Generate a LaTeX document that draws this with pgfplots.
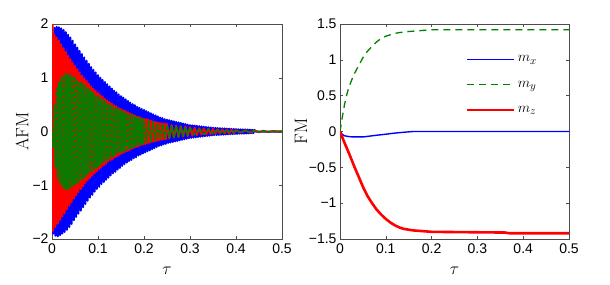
\documentclass[border=0pt]{standalone}
\usepackage{pgfplots}
\pgfplotsset{compat=1.18}
\usepackage{fontspec}
\setsansfont{Liberation Sans}
\definecolor{mgreen}{rgb}{0,0.5,0}
\definecolor{mblue}{rgb}{0,0,1}
\definecolor{axgray}{gray}{0.3}
\begin{document}
\begin{tikzpicture}
\path[use as bounding box] (0,0) rectangle (610pt,284pt);
\pgfplotsset{
  every axis/.append style={
    scale only axis,
    xmin=0, xmax=0.5,
    xtick={0,0.1,0.2,0.3,0.4,0.5},
    xticklabels={0,0.1,0.2,0.3,0.4,0.5},
    tick align=inside,
    major tick length=3pt,
    axis line style={axgray},
    tick style={axgray, line width=0.5pt},
    tick label style={font=\sffamily\fontsize{14}{16}\selectfont},
    xticklabel style={yshift=-1pt},
    xlabel={$\tau$},
    label style={font=\fontsize{18}{20}\selectfont},
    xlabel style={at={(axis description cs:0.5,-0.15)}, anchor=center},
    anchor=south west,
  }
}
% ---------------- left: AFM ----------------
\begin{axis}[
  at={(52pt,45pt)}, width=230pt, height=215pt,
  ymin=-2, ymax=2,
  ytick={-2,-1,0,1,2},
  yticklabels={−2,−1,0,1,2},
  ylabel={AFM},
  ylabel style={at={(axis description cs:-0.13,0.5)}, anchor=center},
]
\addplot[mblue, line width=2pt, line join=round] coordinates {
(0,0) (0.0025,-1.9) (0.005,1.93) (0.0075,-1.94) (0.01,1.95) (0.0125,-1.95) (0.015,1.94) (0.0175,-1.93)
(0.02,1.92) (0.0225,-1.9) (0.025,1.89) (0.0275,-1.87) (0.03,1.85) (0.0325,-1.83) (0.035,1.80) (0.0375,-1.78)
(0.04,1.75) (0.0425,-1.72) (0.045,1.69) (0.0475,-1.65) (0.05,1.62) (0.0525,-1.59) (0.055,1.56) (0.0575,-1.53)
(0.06,1.50) (0.0625,-1.47) (0.065,1.44) (0.0675,-1.41) (0.07,1.38) (0.0725,-1.35) (0.075,1.32) (0.0775,-1.29)
(0.08,1.26) (0.0825,-1.23) (0.085,1.20) (0.0875,-1.18) (0.09,1.15) (0.0925,-1.12) (0.095,1.10) (0.0975,-1.07)
(0.10,1.05) (0.1025,-1.03) (0.105,1.00) (0.1075,-0.98) (0.11,0.96) (0.1125,-0.94) (0.115,0.92) (0.1175,-0.90)
(0.12,0.88) (0.1225,-0.86) (0.125,0.84) (0.1275,-0.82) (0.13,0.80) (0.1325,-0.78) (0.135,0.76) (0.1375,-0.75)
(0.14,0.73) (0.1425,-0.71) (0.145,0.69) (0.1475,-0.68) (0.15,0.66) (0.1525,-0.64) (0.155,0.63) (0.1575,-0.61)
(0.16,0.60) (0.1625,-0.58) (0.165,0.57) (0.1675,-0.55) (0.17,0.54) (0.1725,-0.53) (0.175,0.51) (0.1775,-0.50)
(0.18,0.49) (0.1825,-0.48) (0.185,0.46) (0.1875,-0.45) (0.19,0.44) (0.1925,-0.43) (0.195,0.42) (0.1975,-0.41)
(0.20,0.40) (0.2025,-0.39) (0.205,0.38) (0.2075,-0.37) (0.21,0.36) (0.2125,-0.35) (0.215,0.34) (0.2175,-0.33)
(0.22,0.32) (0.2225,-0.31) (0.225,0.30) (0.2275,-0.29) (0.23,0.28) (0.2325,-0.27) (0.235,0.26) (0.2375,-0.26)
(0.24,0.25) (0.2425,-0.24) (0.245,0.23) (0.2475,-0.23) (0.25,0.22) (0.2525,-0.215) (0.255,0.21) (0.2575,-0.205)
(0.26,0.20) (0.2625,-0.195) (0.265,0.19) (0.2675,-0.185) (0.27,0.18) (0.2725,-0.175) (0.275,0.17) (0.2775,-0.165)
(0.28,0.16) (0.2825,-0.155) (0.285,0.15) (0.2875,-0.145) (0.29,0.14) (0.2925,-0.135) (0.295,0.13) (0.2975,-0.125)
(0.30,0.12) (0.3025,-0.118) (0.305,0.115) (0.3075,-0.113) (0.31,0.11) (0.3125,-0.108) (0.315,0.105) (0.3175,-0.103)
(0.32,0.10) (0.3225,-0.098) (0.325,0.095) (0.3275,-0.093) (0.33,0.09) (0.3325,-0.088) (0.335,0.085) (0.3375,-0.083)
(0.34,0.08) (0.3425,-0.078) (0.345,0.075) (0.3475,-0.073) (0.35,0.07) (0.3525,-0.069) (0.355,0.068) (0.3575,-0.066)
(0.36,0.065) (0.3625,-0.064) (0.365,0.062) (0.3675,-0.061) (0.37,0.06) (0.3725,-0.059) (0.375,0.057) (0.3775,-0.056)
(0.38,0.055) (0.3825,-0.054) (0.385,0.052) (0.3875,-0.051) (0.39,0.05) (0.3925,-0.049) (0.395,0.047) (0.3975,-0.046)
(0.40,0.045) (0.4025,-0.044) (0.405,0.042) (0.4075,-0.041) (0.41,0.04) (0.4125,-0.04) (0.415,0.04) (0.4175,-0.04)
(0.42,0.04) (0.4225,-0.038) (0.425,0.037) (0.4275,-0.036) (0.43,0.035) (0.4325,-0.034) (0.435,0.032) (0.4375,-0.031)
(0.44,0.03) (0.4425,0) (0.5,0)
};
\addplot[red, line width=2pt, line join=round] coordinates {
(0,0) (0.0012,2.0) (0.0025,-1.85) (0.005,1.8) (0.0075,-1.78) (0.01,1.75) (0.0125,-1.72) (0.015,1.69) (0.0175,-1.65)
(0.02,1.62) (0.0225,-1.58) (0.025,1.55) (0.0275,-1.52) (0.03,1.48) (0.0325,-1.45) (0.035,1.41) (0.0375,-1.38)
(0.04,1.35) (0.0425,-1.32) (0.045,1.28) (0.0475,-1.25) (0.05,1.22) (0.0525,-1.19) (0.055,1.16) (0.0575,-1.13)
(0.06,1.10) (0.0625,-1.07) (0.065,1.04) (0.0675,-1.02) (0.07,0.99) (0.0725,-0.96) (0.075,0.94) (0.0775,-0.91)
(0.08,0.89) (0.0825,-0.87) (0.085,0.84) (0.0875,-0.82) (0.09,0.80) (0.0925,-0.78) (0.095,0.76) (0.0975,-0.74)
(0.10,0.72) (0.1025,-0.70) (0.105,0.68) (0.1075,-0.67) (0.11,0.65) (0.1125,-0.63) (0.115,0.61) (0.1175,-0.60)
(0.12,0.58) (0.1225,-0.56) (0.125,0.55) (0.1275,-0.53) (0.13,0.52) (0.1325,-0.51) (0.135,0.49) (0.1375,-0.48)
(0.14,0.47) (0.1425,-0.46) (0.145,0.44) (0.1475,-0.43) (0.15,0.42) (0.1525,-0.41) (0.155,0.40) (0.1575,-0.39)
(0.16,0.38) (0.1625,-0.37) (0.165,0.36) (0.1675,-0.35) (0.17,0.34) (0.1725,-0.33) (0.175,0.32) (0.1775,-0.31)
(0.18,0.30) (0.1825,-0.29) (0.185,0.28) (0.1875,-0.28) (0.19,0.27) (0.1925,-0.26) (0.195,0.25) (0.1975,-0.245)
(0.20,0.24) (0.2025,-0.235) (0.205,0.23) (0.2075,-0.225) (0.21,0.22) (0.2125,-0.21) (0.215,0.20) (0.2175,-0.195)
(0.22,0.19) (0.2225,-0.185) (0.225,0.18) (0.2275,-0.175) (0.23,0.17) (0.2325,-0.165) (0.235,0.16) (0.2375,-0.155)
(0.24,0.15) (0.2425,-0.148) (0.245,0.145) (0.2475,-0.143) (0.25,0.14)
(0.255,-0.13) (0.26,0.12) (0.265,-0.115) (0.27,0.11) (0.275,-0.105)
(0.28,0.10) (0.285,-0.095) (0.29,0.09) (0.295,-0.085) (0.30,0.08) (0.305,-0.075) (0.31,0.07) (0.315,-0.065)
(0.32,0.06) (0.325,-0.057) (0.33,0.055) (0.335,-0.052) (0.34,0.05) (0.345,-0.047) (0.35,0.045) (0.355,-0.042)
(0.36,0.04) (0.365,-0.037) (0.37,0.035) (0.375,-0.032) (0.38,0.03) (0.385,-0.03) (0.39,0.03) (0.395,-0.027)
(0.40,0.025) (0.41,-0.02) (0.42,0.02) (0.43,-0.015) (0.44,0.015) (0.45,-0.01) (0.46,0.01) (0.47,-0.01)
(0.48,0.005) (0.5,0)
};
\addplot[mgreen, line width=1.8pt, line join=round, dash pattern=on 4pt off 1.5pt] coordinates {
(0,0) (0.0025,-0.3) (0.005,0.5) (0.0075,-0.66) (0.01,0.8) (0.0125,-0.87) (0.015,0.92) (0.0175,-0.96)
(0.02,1.0) (0.0225,-1.03) (0.025,1.05) (0.0275,-1.07) (0.03,1.08) (0.0325,-1.08) (0.035,1.07) (0.0375,-1.06)
(0.04,1.05) (0.0425,-1.04) (0.045,1.03) (0.0475,-1.01) (0.05,1.0) (0.0525,-0.98) (0.055,0.97) (0.0575,-0.95)
(0.06,0.93) (0.0625,-0.91) (0.065,0.90) (0.0675,-0.88) (0.07,0.86) (0.0725,-0.84) (0.075,0.83) (0.0775,-0.81)
(0.08,0.79) (0.0825,-0.77) (0.085,0.75) (0.0875,-0.74) (0.09,0.72) (0.0925,-0.70) (0.095,0.68) (0.0975,-0.67)
(0.10,0.65) (0.1025,-0.63) (0.105,0.62) (0.1075,-0.60) (0.11,0.59) (0.1125,-0.57) (0.115,0.56) (0.1175,-0.54)
(0.12,0.53) (0.1225,-0.52) (0.125,0.50) (0.1275,-0.49) (0.13,0.48) (0.1325,-0.46) (0.135,0.45) (0.1375,-0.44)
(0.14,0.43) (0.1425,-0.42) (0.145,0.41) (0.1475,-0.40) (0.15,0.39) (0.1525,-0.38) (0.155,0.37) (0.1575,-0.36)
(0.16,0.35) (0.1625,-0.34) (0.165,0.33) (0.1675,-0.32) (0.17,0.31) (0.1725,-0.305) (0.175,0.30) (0.1775,-0.29)
(0.18,0.28) (0.1825,-0.27) (0.185,0.26) (0.1875,-0.255) (0.19,0.25) (0.1925,-0.24) (0.195,0.23) (0.1975,-0.225)
(0.20,0.22) (0.205,-0.21) (0.21,0.20) (0.215,-0.19) (0.22,0.18) (0.225,-0.17) (0.23,0.16) (0.235,-0.15)
(0.24,0.14) (0.245,-0.13) (0.25,0.12) (0.255,-0.115) (0.26,0.11) (0.265,-0.105) (0.27,0.10) (0.275,-0.095)
(0.28,0.09) (0.285,-0.085) (0.29,0.08) (0.295,-0.075) (0.30,0.07) (0.31,-0.062) (0.32,0.055) (0.33,-0.05)
(0.34,0.045) (0.35,-0.04) (0.36,0.035) (0.37,-0.032) (0.38,0.03) (0.39,-0.027) (0.40,0.025) (0.41,-0.022)
(0.42,0.02) (0.43,-0.018) (0.44,0.016) (0.45,-0.015) (0.46,0.013) (0.47,-0.012) (0.48,0.011) (0.49,-0.01)
(0.5,0)
};
\end{axis}
% ---------------- right: FM ----------------
\begin{axis}[
  at={(340pt,45pt)}, width=229pt, height=215pt,
  ymin=-1.5, ymax=1.5,
  ytick={-1.5,-1,-0.5,0,0.5,1,1.5},
  yticklabels={−1.5,−1,−0.5,0,0.5,1,1.5},
  ylabel={FM},
  ylabel style={at={(axis description cs:-0.17,0.5)}, anchor=center},
  legend style={at={(axis description cs:0.55,0.863)}, anchor=north west,
    draw=none, fill=none, font=\fontsize{15}{17}\selectfont,
    row sep=13.5pt, inner sep=0pt},
  legend cell align=left,
  legend image code/.code={\draw[#1] (0pt,0pt) -- (47pt,0pt);},
]
\addplot[mblue, line width=1.4pt] coordinates {
(0,0) (0.005,-0.04) (0.01,-0.06) (0.02,-0.072) (0.03,-0.076) (0.05,-0.076) (0.06,-0.068)
(0.08,-0.052) (0.1,-0.038) (0.12,-0.022) (0.14,-0.01) (0.16,0) (0.5,0)
};
\addlegendentry{$m_x$}
\addplot[mgreen, line width=1.3pt, dash pattern=on 7pt off 5pt] coordinates {
(0,0) (0.005,0.2) (0.01,0.38) (0.015,0.52) (0.02,0.63) (0.03,0.79) (0.04,0.91) (0.05,1.03)
(0.06,1.12) (0.07,1.19) (0.08,1.25) (0.09,1.30) (0.1,1.33) (0.12,1.37) (0.14,1.39) (0.16,1.40)
(0.18,1.41) (0.2,1.42) (0.5,1.42)
};
\addlegendentry{$m_y$}
\addplot[red, line width=2.6pt] coordinates {
(0,0) (0.005,-0.08) (0.01,-0.16) (0.02,-0.31) (0.03,-0.47) (0.04,-0.62) (0.05,-0.77)
(0.06,-0.9) (0.07,-1.0) (0.08,-1.09) (0.09,-1.16) (0.1,-1.22) (0.11,-1.27) (0.12,-1.31)
(0.13,-1.34) (0.14,-1.36) (0.16,-1.38) (0.18,-1.39) (0.2,-1.40) (0.36,-1.41) (0.37,-1.42) (0.5,-1.42)
};
\addlegendentry{$m_z$}
\end{axis}
\end{tikzpicture}
\end{document}
